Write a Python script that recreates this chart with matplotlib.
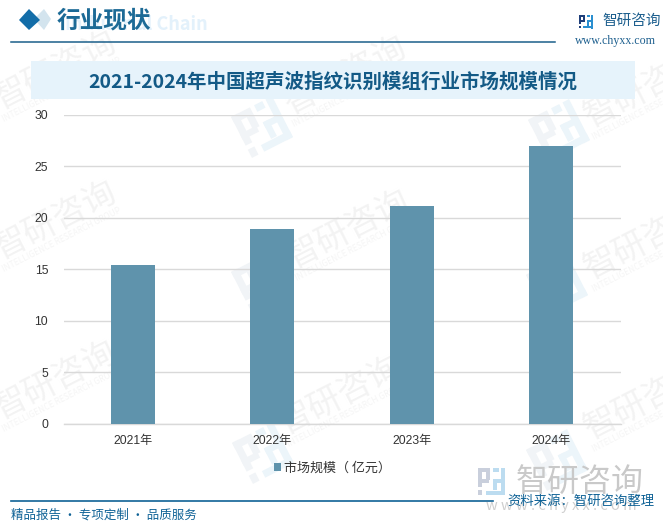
# -*- coding: utf-8 -*-
import matplotlib
matplotlib.use("Agg")
import matplotlib.pyplot as plt
from matplotlib.patches import Rectangle, Polygon

plt.rcParams['font.family'] = ['Noto Sans CJK SC', 'DejaVu Sans']

#data
years = ['2021年', '2022年', '2023年', '2024年']
market_size = [15.4, 18.9, 21.1, 26.9]
y_ticks = [0, 5, 10, 15, 20, 25, 30]
legend_label = '市场规模（ 亿元）'
chart_title = '2021-2024年中国超声波指纹识别模组行业市场规模情况'
section_title = '行业现状'
footer_left = '精品报告 · 专项定制 · 品质服务'
footer_right = '资料来源：智研咨询整理'

W, H = 663, 532
fig = plt.figure(figsize=(W / 100, H / 100), dpi=100, facecolor='white')

#background layer in pixel coordinates
bg = fig.add_axes([0, 0, 1, 1], zorder=0)
bg.set_xlim(0, W)
bg.set_ylim(H, 0)
bg.axis('off')


def logo(ax, cx, cy, s, c1, c2, rot=0, z=1):
    #small square logo built from blocks, cx/cy is its centre
    x = cx - s / 2
    y = cy - s / 2
    tr = matplotlib.transforms.Affine2D().rotate_deg_around(cx, cy, -rot) + ax.transData
    for dx, dy, w, h, c in [(0, 0, .46, .16, c1), (0, 0, .16, .7, c1), (0, .42, .4, .14, c1),
                            (.3, .16, .16, .3, c1), (0, .8, .16, .2, c1),
                            (.56, 0, .2, .16, c2), (.84, 0, .16, 1, c2), (.56, .42, .3, .14, c2),
                            (.56, .42, .14, .4, c2), (.3, .84, .7, .16, c2)]:
        ax.add_patch(Rectangle((x + dx * s, y + dy * s), w * s, h * s, fc=c, ec='none', transform=tr, zorder=z))


#repeated watermark
wm_color = '#f3f3f3'
for wx, wy in [(55, 70), (345, 75), (645, 88), (55, 220), (348, 229), (645, 240), (55, 380), (340, 395), (645, 400)]:
    bg.text(wx, wy, '智研咨询', fontsize=24, color=wm_color, rotation=27, ha='center', va='center', zorder=1)
    bg.text(wx + 7, wy + 20, 'INTELLIGENCE RESEARCH GROUP', fontsize=6, color='#f5f5f5', rotation=27,
            ha='center', va='center', zorder=1)
for lx, ly in [(262, 127), (559, 130), (262, 282), (557, 285), (263, 453), (557, 460)]:
    logo(bg, lx, ly, 46, '#f1f4f7', '#ecf5fa', rot=27)

#header
bg.text(136, 25, 'Industrial Chain', fontsize=13, fontweight='bold', color='#e3f1fb',
        ha='center', va='center', zorder=2)
bg.add_patch(Polygon([[34, 19], [44, 9], [51, 19], [44, 30]], fc='#d3e4ee', ec='none', zorder=2))
bg.add_patch(Polygon([[19, 20], [29, 9], [40, 20], [29, 30]], fc='#136da8', ec='none', zorder=3))
bg.text(57, 20, section_title, fontsize=17, fontweight='bold', color='#1c6a96', ha='left', va='center', zorder=3)
bg.plot([11, 555], [41.5, 41.5], color='#1b5f8a', lw=1.1, zorder=3)
logo(bg, 586, 21.5, 14, '#1f3f7a', '#2a8fd0', z=3)
bg.text(602, 21, '智研咨询', fontsize=10.5, color='#1d5f8e', ha='left', va='center', zorder=3)
bg.text(615.5, 41, 'www.chyxx.com', fontsize=8.6, family='Liberation Serif', color='#1d5f8e',
        ha='center', va='center', zorder=3)

#title band
bg.add_patch(Rectangle((31, 61), 604, 38, fc='#e6f3fb', ec='none', zorder=2))
bg.text(333, 82, chart_title, fontsize=14, fontweight='bold', color='#135a86', ha='center', va='center', zorder=3)

#footer
logo(bg, 491.5, 481.5, 27, '#c9cfdc', '#bcdcf0', z=2)
bg.text(580, 482, '智研咨询', fontsize=23, color='#c9c9c9', ha='center', va='center', zorder=2)
bg.text(561, 506, 'w w w . c h y x x . c o m', fontsize=10.5, color='#cfcfcf', ha='center', va='center', zorder=2)
bg.plot([11, 493], [500.5, 500.5], color='#0f6296', lw=1.2, zorder=3)
bg.text(11, 515, footer_left, fontsize=9, color='#0f6296', ha='left', va='center', zorder=3)
bg.text(655, 501, footer_right, fontsize=9.6, color='#0f6296', ha='right', va='center', zorder=3)

#main chart
ax = fig.add_axes([63.5 / W, 1 - 424 / H, (620.5 - 63.5) / W, (424 - 114.5) / H], zorder=2)
ax.patch.set_alpha(0)
x = list(range(len(years)))
ax.bar(x, market_size, width=0.316, color='#5f93ac', zorder=3, label=legend_label)
ax.set_xlim(-0.5, 3.5)
ax.set_ylim(0, 30)
ax.set_yticks(y_ticks)
ax.set_xticks(x)
ax.set_xticklabels(years)
ax.tick_params(axis='both', length=0, labelsize=8.7, colors='#333333')
ax.tick_params(axis='x', pad=8)
ax.tick_params(axis='y', pad=11)
for lab in ax.get_xticklabels() + ax.get_yticklabels():
    lab.set_family(['Liberation Sans', 'Noto Sans CJK SC'])
ax.grid(axis='y', color='#d9d9d9', lw=1, zorder=1)
for side in ['top', 'right', 'left']:
    ax.spines[side].set_visible(False)
ax.spines['bottom'].set_color('#d9d9d9')
ax.spines['bottom'].set_linewidth(1)

ax.legend(loc='center', bbox_to_anchor=(0.483, -0.142), frameon=False, fontsize=9.4,
          handlelength=0.5, handleheight=0.5, handletextpad=0.25, labelcolor='#333333')

fig.savefig('out.png', dpi=100)
